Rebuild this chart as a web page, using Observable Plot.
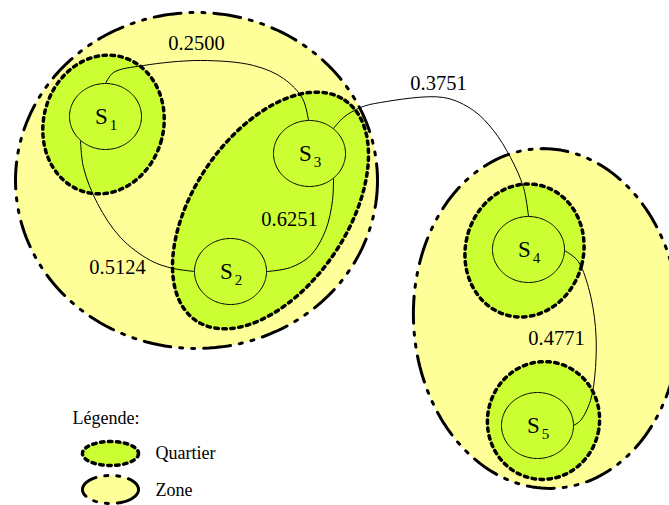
<!DOCTYPE html>
<html><head><meta charset="utf-8">
<script src="https://cdn.jsdelivr.net/npm/d3@7"></script>
<script src="https://cdn.jsdelivr.net/npm/@observablehq/plot@0.6"></script>
<style>body{margin:0;background:#fff}</style>
</head><body><div id="chart"></div>
<script>
// Zones (large dash-dot ellipses): centre, radii, rotation (deg)
const zones = [
  {cx: 196, cy: 180, rx: 181, ry: 168, rot: 0},
  {cx: 546, cy: 318, rx: 133, ry: 170, rot: -3}
];
// Quartiers (dotted ellipses)
const quartiers = [
  {cx: 103, cy: 124, rx: 60, ry: 70, rot: 15},
  {cx: 270, cy: 210, rx: 133, ry: 77, rot: -56},
  {cx: 524, cy: 250, rx: 59, ry: 67, rot: 15},
  {cx: 543, cy: 420, rx: 56, ry: 59, rot: 10}
];
// Sites
const nodeSubs = ["1", "2", "3", "4", "5"];
const nodeX = [105, 230, 309, 528, 537];
const nodeY = [116, 271, 153, 249, 425];
const nodeRx = 36, nodeRy = 33;
// Edges: label + control points
const edgeLabels = ["0.2500", "0.5124", "0.6251", "0.3751", "0.4771"];
const edgeLabelX = [196, 117, 289, 438, 556];
const edgeLabelY = [43, 267, 219, 83, 338];
const edgePaths = [
  [[105,83],[113,72],[143,65],[200,60],[253,65],[283,78],[302,98],[308,120]],
  [[80,140],[83,167],[97,203],[120,237],[150,260],[173,268],[195,271]],
  [[333,178],[332,200],[325,230],[310,255],[290,267],[267,271]],
  [[333,128],[343,117],[360,107],[380,102],[443,97],[473,110],[493,130],[510,157],[523,187],[528,216]],
  [[564,250],[577,260],[588,287],[595,327],[595,367],[590,400],[580,420],[573,425]]
];
// Legend
const legendTitle = "Légende:";
const legendLabels = ["Quartier", "Zone"];
const legendShapes = [
  {cx: 110, cy: 453, rx: 28, ry: 12, rot: 0},
  {cx: 110, cy: 489, rx: 28, ry: 14, rot: 0}
];
const legendLabelX = [155, 155];
const legendLabelY = [453, 490];

const ZONE_FILL = "#ffff99", Q_FILL = "#ccff33";
const ZONE_DASH = "27,9,3,9,3,9", Q_DASH = "3.5,4.5";

function outline(shapes) {
  const pts = [];
  shapes.forEach((s, i) => {
    const th = s.rot * Math.PI / 180;
    for (let k = 0; k < 180; k++) {
      const t = 2 * Math.PI * k / 180;
      const ex = s.rx * Math.cos(t), ey = s.ry * Math.sin(t);
      pts.push({id: i, x: s.cx + ex * Math.cos(th) - ey * Math.sin(th), y: s.cy + ex * Math.sin(th) + ey * Math.cos(th)});
    }
  });
  return pts;
}
const zonePts = outline(zones);
const quartPts = outline(quartiers);
const nodes = nodeSubs.map((s, i) => ({sub: s, x: nodeX[i], y: nodeY[i]}));
const nodePts = outline(nodes.map(n => ({cx: n.x, cy: n.y, rx: nodeRx, ry: nodeRy, rot: 0})));
const edgePts = edgePaths.flatMap((p, i) => p.map(([x, y]) => ({id: i, x, y})));
const edgeText = edgeLabels.map((l, i) => ({l, x: edgeLabelX[i], y: edgeLabelY[i]}));
const legQ = outline([legendShapes[0]]);
const legZ = outline([legendShapes[1]]);
const legText = legendLabels.map((l, i) => ({l, x: legendLabelX[i], y: legendLabelY[i]}));

const font = "Liberation Serif";
const chart = Plot.plot({
  width: 669, height: 505, margin: 0,
  x: {domain: [0, 669], range: [0, 669], axis: null},
  y: {domain: [0, 505], range: [0, 505], axis: null},
  style: {background: "#fff", fontFamily: font},
  marks: [
    Plot.line(zonePts, {x: "x", y: "y", z: "id", curve: "linear-closed", fill: ZONE_FILL, stroke: "none"}),
    Plot.line(zonePts, {x: "x", y: "y", z: "id", curve: "linear-closed", stroke: "#000", strokeWidth: 3, strokeDasharray: ZONE_DASH}),
    Plot.line(quartPts, {x: "x", y: "y", z: "id", curve: "linear-closed", fill: Q_FILL, stroke: "none"}),
    Plot.line(quartPts, {x: "x", y: "y", z: "id", curve: "linear-closed", stroke: "#000", strokeWidth: 3.5, strokeDasharray: Q_DASH}),
    Plot.line(edgePts, {x: "x", y: "y", z: "id", curve: "catmull-rom", stroke: "#000", strokeWidth: 1}),
    Plot.line(nodePts, {x: "x", y: "y", z: "id", curve: "linear-closed", fill: Q_FILL, stroke: "#000", strokeWidth: 1}),
    Plot.text(nodes, {x: "x", y: "y", text: () => "S", dx: -4, fontSize: 23, fill: "#000", fontFamily: font}),
    Plot.text(nodes, {x: "x", y: "y", text: "sub", dx: 8, dy: 9, fontSize: 15, fill: "#000", fontFamily: font}),
    Plot.text(edgeText, {x: "x", y: "y", text: "l", fontSize: 20.5, fill: "#000", fontFamily: font}),
    Plot.line(legQ, {x: "x", y: "y", curve: "linear-closed", fill: Q_FILL, stroke: "#000", strokeWidth: 3.5, strokeDasharray: Q_DASH}),
    Plot.line(legZ, {x: "x", y: "y", curve: "linear-closed", fill: ZONE_FILL, stroke: "#000", strokeWidth: 3, strokeDasharray: ZONE_DASH}),
    Plot.text([legendTitle], {x: () => 72, y: () => 418, text: d => d, textAnchor: "start", fontSize: 18, fill: "#000", fontFamily: font}),
    Plot.text(legText, {x: "x", y: "y", text: "l", textAnchor: "start", fontSize: 18, fill: "#000", fontFamily: font})
  ]
});
document.getElementById("chart").append(chart);
</script>
</body></html>
